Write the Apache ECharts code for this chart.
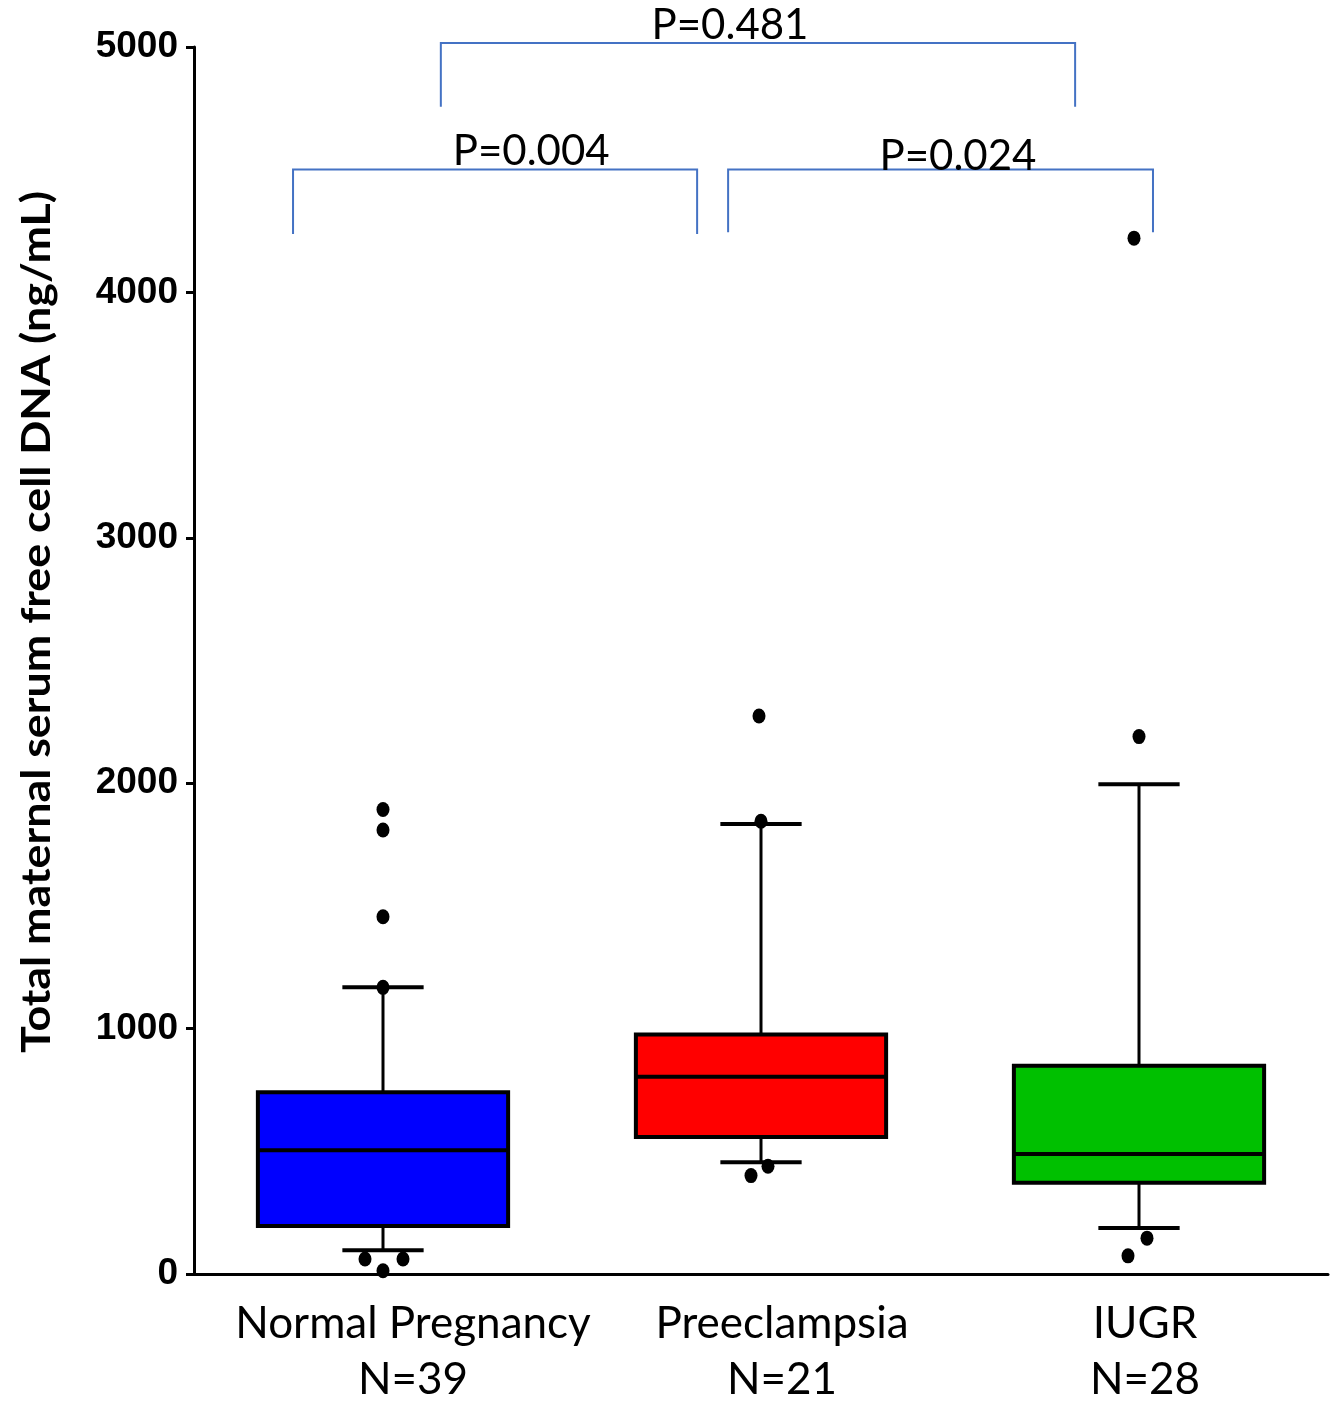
<!DOCTYPE html>
<html>
<head>
<meta charset="utf-8">
<script src="https://cdn.jsdelivr.net/npm/echarts@6/dist/echarts.min.js"></script>
<style>
  html, body { margin: 0; padding: 0; background: #fff; }
  #chart { width: 1332px; height: 1408px; }
</style>
</head>
<body>
<div id="chart"></div>
<script>
// ---- Data ----
const categories = ['Normal Pregnancy', 'Preeclampsia', 'IUGR'];
const nCounts = [39, 21, 28];
const whiskerLow = [97, 455, 187];
const q1 = [196, 558, 372];
const median = [504, 804, 489];
const q3 = [741, 976, 849];
const whiskerHigh = [1168, 1834, 1996];

const normalPoints = [1893, 1809, 1456, 1168, 61, 61, 13];
const preeclampsiaPoints = [2274, 1845, 439, 401];
const iugrPoints = [4221, 2190, 146, 74];

const yTicks = [0, 1000, 2000, 3000, 4000, 5000];

const pValues = ['P=0.004', 'P=0.024', 'P=0.481'];

// ---- Annotation geometry (category-band units / value units) ----
const bracketGeom = [
  { from: -0.238, to: 0.831, top: 4501, bottom: 4238, tx: 0.392, ty: 4574 },
  { from: 0.913, to: 2.037, top: 4501, bottom: 4245, tx: 1.521, ty: 4554 },
  { from: 0.153, to: 1.831, top: 5016, bottom: 4757, tx: 0.918, ty: 5089 }
];
// jitter of points (pixels)
const pointJitter = [
  [0, 0, 0, 0, -18, 20, 0],
  [-2, 0, 7, -10],
  [-5, 0, 8, -11]
];
// horizontal shift of category labels (pixels)
const labelShift = [30, 21, 6];

const boxColors = ['#0000FF', '#FF0000', '#00C000'];
const bracketColor = '#4472C4';
const textFont = 'Lato, "Open Sans", sans-serif';

const boxData = categories.map((c, i) => [i, whiskerLow[i], q1[i], median[i], q3[i], whiskerHigh[i]]);

const groups = [normalPoints, preeclampsiaPoints, iugrPoints];
const pointData = [];
groups.forEach((arr, gi) => {
  arr.forEach((v, k) => {
    pointData.push({ value: [gi, v], symbolOffset: [pointJitter[gi][k] || 0, 0] });
  });
});

const bracketData = bracketGeom.map((b, i) => ({ value: [b.from, b.to, b.top, b.bottom, b.tx, b.ty], name: pValues[i] }));

function renderBox(params, api) {
  const i = api.value(0);
  const lo = api.coord([i, api.value(1)]);
  const b1 = api.coord([i, api.value(2)]);
  const md = api.coord([i, api.value(3)]);
  const b3 = api.coord([i, api.value(4)]);
  const hi = api.coord([i, api.value(5)]);
  const band = api.size([1, 0])[0];
  const bw = band * 0.662;
  const cw = band * 0.215;
  const x = md[0];
  const stroke = '#000';
  return {
    type: 'group',
    children: [
      { type: 'line', shape: { x1: x, y1: b1[1], x2: x, y2: lo[1] }, style: { stroke, lineWidth: 3 } },
      { type: 'line', shape: { x1: x, y1: b3[1], x2: x, y2: hi[1] }, style: { stroke, lineWidth: 3 } },
      { type: 'line', shape: { x1: x - cw / 2, y1: lo[1], x2: x + cw / 2, y2: lo[1] }, style: { stroke, lineWidth: 4 } },
      { type: 'line', shape: { x1: x - cw / 2, y1: hi[1], x2: x + cw / 2, y2: hi[1] }, style: { stroke, lineWidth: 4 } },
      { type: 'rect', shape: { x: x - bw / 2, y: b3[1], width: bw, height: b1[1] - b3[1] },
        style: { fill: boxColors[i], stroke, lineWidth: 4 } },
      { type: 'line', shape: { x1: x - bw / 2, y1: md[1], x2: x + bw / 2, y2: md[1] }, style: { stroke, lineWidth: 4 } }
    ]
  };
}

function renderBracket(params, api) {
  const p0 = api.coord([0, 0]);
  const band = api.size([1, 0])[0];
  const xAt = u => p0[0] + u * band;
  const yAt = v => api.coord([0, v])[1];
  const x1 = xAt(api.value(0)), x2 = xAt(api.value(1));
  const yt = yAt(api.value(2)), yb = yAt(api.value(3));
  const tx = xAt(api.value(4)), ty = yAt(api.value(5));
  const st = { stroke: bracketColor, lineWidth: 2, fill: null };
  return {
    type: 'group',
    children: [
      { type: 'polyline', shape: { points: [[x1, yb], [x1, yt], [x2, yt], [x2, yb]] }, style: st },
      { type: 'text', style: { text: bracketData[params.dataIndex].name, x: tx, y: ty, align: 'center', verticalAlign: 'middle',
        fill: '#000', fontSize: 42, fontFamily: textFont } }
    ]
  };
}

const richLabels = {};
labelShift.forEach((s, i) => {
  richLabels['c' + i] = { padding: [0, 0, 0, 2 * s], fontSize: 44, lineHeight: 56, fontFamily: textFont, color: '#000' };
});

const chart = echarts.init(document.getElementById('chart'));
chart.setOption({
  backgroundColor: '#fff',
  animation: false,
  grid: { left: 194, right: 4, top: 47, bottom: 128 },
  xAxis: {
    type: 'category',
    data: categories,
    boundaryGap: true,
    axisLine: { lineStyle: { color: '#000', width: 3 } },
    axisTick: { alignWithLabel: true, length: 10, lineStyle: { color: '#000', width: 3 } },
    axisLabel: {
      interval: 0,
      margin: 22,
      color: '#000',
      fontSize: 44,
      lineHeight: 56,
      fontFamily: textFont,
      formatter: (v, i) => '{c' + i + '|' + v + '}\n{c' + i + '|N=' + nCounts[i] + '}',
      rich: richLabels
    },
    splitLine: { show: false }
  },
  yAxis: {
    type: 'value',
    min: yTicks[0],
    max: yTicks[yTicks.length - 1],
    interval: 1000,
    axisLine: { show: true, lineStyle: { color: '#000', width: 3 } },
    axisTick: { show: true, length: 8, lineStyle: { color: '#000', width: 3 } },
    axisLabel: { margin: 16, color: '#000', fontSize: 37, fontWeight: 'bold', fontFamily: '"Liberation Sans", Arial, sans-serif',
      formatter: v => String(v) },
    splitLine: { show: false }
  },
  graphic: [{
    type: 'text',
    x: 37, y: 622,
    rotation: Math.PI / 2,
    scaleX: 1.12,
    style: {
      text: 'Total maternal serum free cell DNA (ng/mL)',
      align: 'center', verticalAlign: 'middle',
      fill: '#000', fontSize: 40, fontWeight: 'bold', fontFamily: textFont
    }
  }],
  series: [
    {
      type: 'custom',
      renderItem: renderBox,
      data: boxData,
      encode: { x: 0, y: [1, 2, 3, 4, 5] },
      z: 2
    },
    {
      type: 'scatter',
      data: pointData,
      symbol: 'circle',
      symbolSize: [13, 15],
      itemStyle: { color: '#000', opacity: 1 },
      z: 3
    },
    {
      type: 'custom',
      renderItem: renderBracket,
      data: bracketData,
      clip: false,
      z: 4
    }
  ]
});
</script>
</body>
</html>
